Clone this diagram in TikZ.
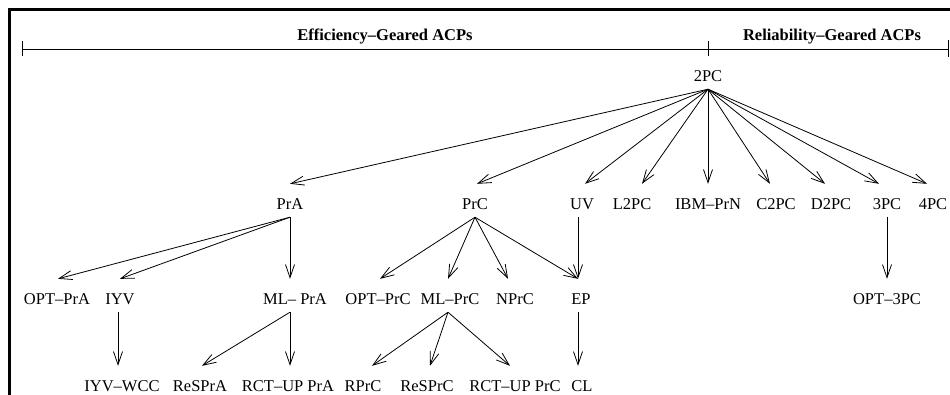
\documentclass[tikz,border=0pt]{standalone}
\usepackage{fontspec}
\setmainfont{Liberation Serif}
\usetikzlibrary{arrows.meta}
\begin{document}
\begin{tikzpicture}[x=1pt,y=-1pt,
  lbl/.style={anchor=base, font=\fontsize{16.5}{18}\selectfont,
    text height=17pt, text depth=0pt, inner xsep=0pt, inner ysep=8pt},
  head/.style={anchor=base, font=\fontsize{16.5}{18}\selectfont\bfseries, inner sep=0pt},
  edge/.style={-{Straight Barb[length=13pt,width=9pt]}, line width=0.8pt},
  axis/.style={line width=0.8pt},
]
\useasboundingbox (0,0) rectangle (950,394);
\clip (0,0) rectangle (950,394);

% outer frame
\draw[line width=3pt] (9.5,9.5) rectangle (980,420);

% category axis
\coordinate (axL) at (22,49);
\coordinate (axM) at (708,49);
\coordinate (axR) at (948,49);
\draw[axis] (axL) -- (axR);
\draw[axis] ([yshift=-7pt]axL) -- ([yshift=8pt]axL);
\draw[axis] ([yshift=-7pt]axM) -- ([yshift=8pt]axM);
\draw[axis] ([yshift=-8pt]axR) -- ([yshift=9pt]axR);
\node[head] (eff) at (385,40) {Efficiency--Geared ACPs};
\node[head] (rel) at (832,40) {Reliability--Geared ACPs};

% root
\node[lbl] (tpc) at (708,81) {2PC};

% level 1
\node[lbl] (pra)  at (290,209) {PrA};
\node[lbl] (prc)  at (475,209) {PrC};
\node[lbl] (uv)   at (582,209) {UV};
\node[lbl] (ltpc) at (632,209) {L2PC};
\node[lbl] (ibm)  at (708,209) {IBM--PrN};
\node[lbl] (ctpc) at (776,209) {C2PC};
\node[lbl] (dtpc) at (831,209) {D2PC};
\node[lbl] (thpc) at (887,209) {3PC};
\node[lbl] (fopc) at (933,209) {4PC};

% level 2
\node[lbl] (optpra) at (57,304)  {OPT--PrA};
\node[lbl] (iyv)    at (120,304) {IYV};
\node[lbl] (mlpra)  at (295,304) {ML-- PrA};
\node[lbl] (optprc) at (378,304) {OPT--PrC};
\node[lbl] (mlprc)  at (450,304) {ML--PrC};
\node[lbl] (nprc)   at (515,304) {NPrC};
\node[lbl] (ep)     at (581,304) {EP};
\node[lbl] (opt3pc) at (887,304) {OPT--3PC};

% level 3
\node[lbl] (iyvwcc) at (122,391) {IYV--WCC};
\node[lbl] (respra) at (200,391) {ReSPrA};
\node[lbl] (rctpra) at (288,391) {RCT--UP PrA};
\node[lbl] (rprc)   at (363,391) {RPrC};
\node[lbl] (resprc) at (427,391) {ReSPrC};
\node[lbl] (rctprc) at (515,391) {RCT--UP PrC};
\node[lbl] (cl)     at (582,391) {CL};

% root to level 1
\draw[edge] (tpc.south) -- (pra.north);
\draw[edge] (tpc.south) -- ([xshift=2pt]prc.north);
\draw[edge] (tpc.south) -- ([xshift=3pt]uv.north);
\draw[edge] (tpc.south) -- ([xshift=10pt]ltpc.north);
\draw[edge] (tpc.south) -- (ibm.north);
\draw[edge] (tpc.south) -- ([xshift=-6pt]ctpc.north);
\draw[edge] (tpc.south) -- ([xshift=-6pt]dtpc.north);
\draw[edge] (tpc.south) -- ([xshift=-8pt]thpc.north);
\draw[edge] (tpc.south) -- ([xshift=-6pt]fopc.north);

% level 1 to level 2
\draw[edge] (pra.south) -- ([xshift=1pt]optpra.north);
\draw[edge] (pra.south) -- (iyv.north);
\draw[edge] (pra.south) -- ([xshift=-5pt]mlpra.north);
\draw[edge] (prc.south) -- ([xshift=2pt]optprc.north);
\draw[edge] (prc.south) -- ([xshift=-2pt]mlprc.north);
\draw[edge] (prc.south) -- ([xshift=-7pt]nprc.north);
\draw[edge] (prc.south) -- ([xshift=-3pt]ep.north);
\draw[edge] ([xshift=-4pt]uv.south) -- ([xshift=-3pt]ep.north);
\draw[edge] (thpc.south) -- (opt3pc.north);

% level 2 to level 3
\draw[edge] ([xshift=-2pt]iyv.south) -- ([xshift=-4pt]iyvwcc.north);
\draw[edge] ([xshift=-5pt]mlpra.south) -- ([xshift=2pt]respra.north);
\draw[edge] ([xshift=-5pt]mlpra.south) -- ([xshift=2pt]rctpra.north);
\draw[edge] ([xshift=-2pt]mlprc.south) -- ([xshift=9pt]rprc.north);
\draw[edge] ([xshift=-2pt]mlprc.south) -- ([xshift=3pt]resprc.north);
\draw[edge] ([xshift=-2pt]mlprc.south) -- ([xshift=-5pt]rctprc.north);
\draw[edge] ([xshift=-3pt]ep.south) -- ([xshift=-4pt]cl.north);
\end{tikzpicture}
\end{document}
